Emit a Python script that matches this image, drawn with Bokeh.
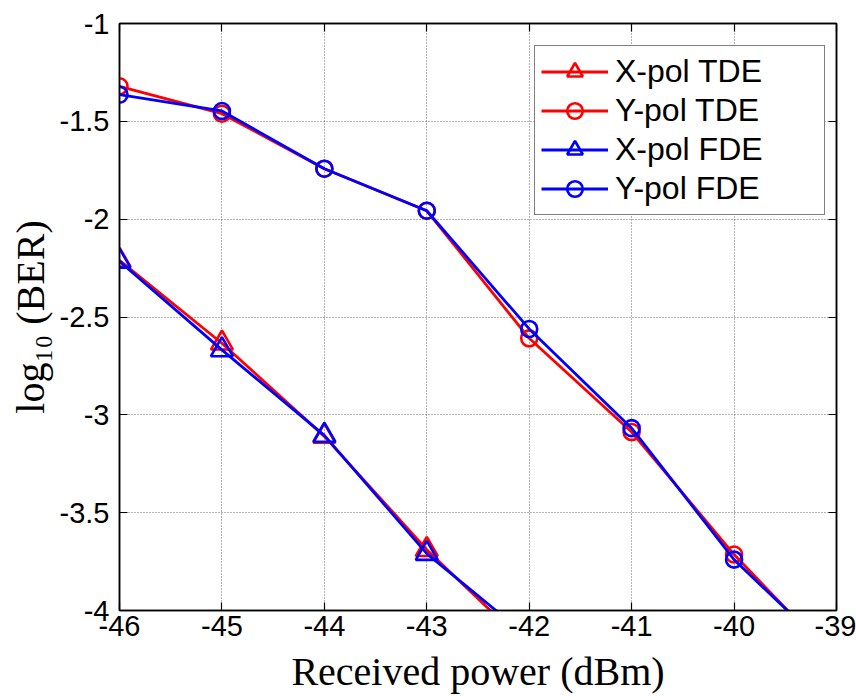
from bokeh.plotting import figure
from bokeh.models import Range1d, FixedTicker, LinearAxis, Legend
from bokeh.embed import file_html
from bokeh.resources import INLINE

power = [-46, -45, -44, -43, -42, -41, -40, -39]

xpol_tde_x = [-46, -45, -44, -43, -42]
xpol_tde = [-2.21, -2.634, -3.11, -3.689, -4.19]
ypol_tde = [-1.321, -1.461, -1.742, -1.957, -2.609, -3.088, -3.714, -4.26]
xpol_fde_x = [-46, -45, -44, -43, -42]
xpol_fde = [-2.215, -2.668, -3.105, -3.709, -4.14]
ypol_fde = [-1.364, -1.447, -1.742, -1.957, -2.561, -3.068, -3.740, -4.24]

x_ticks = [-46, -45, -44, -43, -42, -41, -40, -39]
y_ticks = [-4, -3.5, -3, -2.5, -2, -1.5, -1]
y_tick_labels = ["-4", "-3.5", "-3", "-2.5", "-2", "-1.5", "-1"]

x_label = "Received power (dBm)"
y_label = "log\u2081\u2080 (BER)"

p = figure(width=856, height=696, output_backend="svg", toolbar_location=None,
           x_range=Range1d(-46, -39), y_range=Range1d(-4, -1),
           min_border_left=119, min_border_right=20, min_border_top=23, min_border_bottom=85)
p.background_fill_color = "white"
p.border_fill_color = "white"
p.outline_line_color = "black"
p.outline_line_width = 1.5

tick_font = "Liberation Sans"
for ax in (p.xaxis[0], p.yaxis[0]):
    ax.major_tick_in = 8
    ax.major_tick_out = 0
    ax.minor_tick_in = 0
    ax.minor_tick_out = 0
    ax.axis_line_width = 1.5
    ax.major_tick_line_width = 1.2
    ax.major_label_text_font = tick_font
    ax.major_label_text_font_size = "29px"
    ax.major_label_text_color = "black"
    ax.axis_label_text_font = "Liberation Serif"
    ax.axis_label_text_font_size = "40px"
    ax.axis_label_text_font_style = "normal"
    ax.axis_label_text_color = "black"

p.xaxis[0].ticker = FixedTicker(ticks=x_ticks)
p.xaxis[0].major_label_overrides = {t: str(t) for t in x_ticks}
p.xaxis[0].major_label_standoff = 5
p.xaxis[0].axis_label = x_label
p.xaxis[0].axis_label_standoff = 10

p.yaxis[0].ticker = FixedTicker(ticks=y_ticks)
p.yaxis[0].major_label_overrides = {t: l for t, l in zip(y_ticks, y_tick_labels)}
p.yaxis[0].major_label_standoff = 10
p.yaxis[0].axis_label = y_label
p.yaxis[0].axis_label_standoff = 4

for side, ticks in (("above", x_ticks), ("right", y_ticks)):
    ax = LinearAxis(ticker=FixedTicker(ticks=ticks))
    ax.major_tick_in = 8
    ax.major_tick_out = 0
    ax.minor_tick_in = 0
    ax.minor_tick_out = 0
    ax.axis_line_width = 1.5
    ax.major_tick_line_width = 1.2
    ax.major_label_overrides = {t: "" for t in ticks}
    ax.major_label_standoff = 0
    p.add_layout(ax, side)

p.xgrid[0].ticker = FixedTicker(ticks=x_ticks)
p.ygrid[0].ticker = FixedTicker(ticks=y_ticks)
for g in (p.xgrid[0], p.ygrid[0]):
    g.grid_line_color = "#444444"
    g.grid_line_dash = "1 2"
    g.grid_line_width = 1
    g.grid_line_alpha = 0.8

lw = 2.8
items = []
series = [
    ("X-pol TDE", xpol_tde_x, xpol_tde, "#ff0000", "triangle", 22),
    ("Y-pol TDE", power, ypol_tde, "#ff0000", "circle", 16),
    ("X-pol FDE", xpol_fde_x, xpol_fde, "#0000ff", "triangle", 22),
    ("Y-pol FDE", power, ypol_fde, "#0000ff", "circle", 16),
]
for name, xs, ys, col, mk, sz in series:
    r1 = p.line(xs, ys, line_color=col, line_width=lw)
    r2 = p.scatter(xs, ys, marker=mk, size=sz, line_color=col, fill_color=None, line_width=2.6)
    items.append((name, [r1, r2]))

legend = Legend(items=items, location=(415, 395))
legend.label_text_font = tick_font
legend.label_text_font_size = "32px"
legend.label_text_color = "black"
legend.glyph_width = 67
legend.glyph_height = 39
legend.label_height = 39
legend.label_width = 203
legend.label_standoff = 7
legend.padding = 6
legend.spacing = 0
legend.margin = 0
legend.border_line_color = "black"
legend.border_line_width = 1.5
legend.background_fill_color = "white"
legend.background_fill_alpha = 1
p.add_layout(legend, "center")

open("out.html", "w").write(file_html(p, INLINE))
